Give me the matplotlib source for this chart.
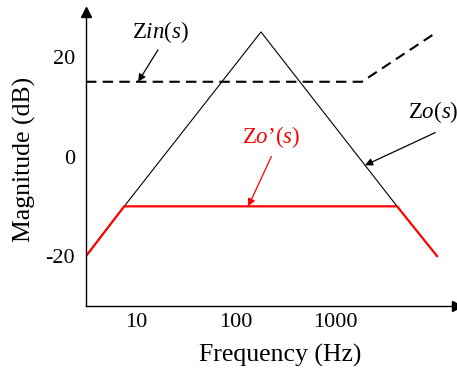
import numpy as np
import matplotlib
matplotlib.use("Agg")
import matplotlib.pyplot as plt

plt.rcParams['font.family'] = ['Liberation Serif', 'DejaVu Serif']
plt.rcParams['mathtext.fontset'] = 'custom'
plt.rcParams['mathtext.rm'] = 'Liberation Serif'
plt.rcParams['mathtext.it'] = 'Liberation Serif:italic'

# asymptotic magnitude curves (corner frequencies in Hz, magnitude in dB)
zo_f = [3.14, 7.6, 180, 4200]
zo_db = [-20, -10, 25, -10]

zo2_f = [3.14, 7.6, 4200, 10600]
zo2_db = [-20, -10, -10, -20]

zin_f = [3.14, 1860, 10600]
zin_db = [15, 15, 25]

xticks = [10, 100, 1000]
yticks = [-20, 0, 20]


def on_curve(f, xs, ys):
    return np.interp(np.log10(f), np.log10(xs), ys)


fig = plt.figure(figsize=(4.57, 3.69), dpi=100)
ax = fig.add_axes([86 / 457, 63 / 369, 371 / 457, 294 / 369])

ax.plot(zo_f, zo_db, color='black', lw=0.8)
ax.plot(zo2_f, zo2_db, color='red', lw=1.6)
ax.plot(zin_f, zin_db, color='black', lw=1.5, dashes=(5, 3))

ax.set_xscale('log')
ax.set_xlim(3.14, 16800)
ax.set_ylim(-30, 29)
ax.set_xticks(xticks)
ax.set_xticklabels([str(t) for t in xticks])
ax.set_yticks(yticks)
ax.set_yticklabels([str(t) for t in yticks])
ax.minorticks_off()
ax.tick_params(length=0, labelsize=16)
ax.tick_params(axis='x', pad=5)
ax.tick_params(axis='y', pad=8)

for side in ['top', 'right']:
    ax.spines[side].set_visible(False)
for side in ['left', 'bottom']:
    ax.spines[side].set_linewidth(1.0)

# arrow heads on the axes
ax.plot(0, 1, marker='^', color='black', ms=7, transform=ax.transAxes, clip_on=False)
ax.plot(1, 0, marker='>', color='black', ms=7, transform=ax.transAxes, clip_on=False)

ax.set_xlabel('Frequency (Hz)', fontsize=18.5)
ax.xaxis.set_label_coords(0.523, -0.13)
ax.set_ylabel('Magnitude (dB)', fontsize=18.5, labelpad=7)

arrow = dict(arrowstyle='-|>', lw=0.9, mutation_scale=11, shrinkA=0, shrinkB=0)

# Zin(s) label
ax.text(17.4, 25, r'$\mathrm{Z}in\mathrm{(}s\mathrm{)}$', fontsize=16.5,
        ha='center', va='center')
ax.annotate('', xy=(10.5, on_curve(10.5, zin_f, zin_db)), xytext=(16.6, 21.4),
            arrowprops=dict(arrow, color='black'))

# Zo(s) label
ax.text(9660, 9, r'$\mathrm{Z}o\mathrm{(}s\mathrm{)}$', fontsize=16.5,
        ha='center', va='center')
ax.annotate('', xy=(2000, on_curve(2000, zo_f, zo_db)), xytext=(10160, 4.8),
            arrowprops=dict(arrow, color='black'))

# Zo'(s) label
ax.text(227, 4, r'$\mathrm{Z}o\mathrm{’(}s\mathrm{)}$', fontsize=16.5,
        ha='center', va='center', color='red')
ax.annotate('', xy=(134, on_curve(134, zo2_f, zo2_db)), xytext=(229, 0),
            arrowprops=dict(arrow, color='red'))

fig.savefig('out.png', dpi=100)
